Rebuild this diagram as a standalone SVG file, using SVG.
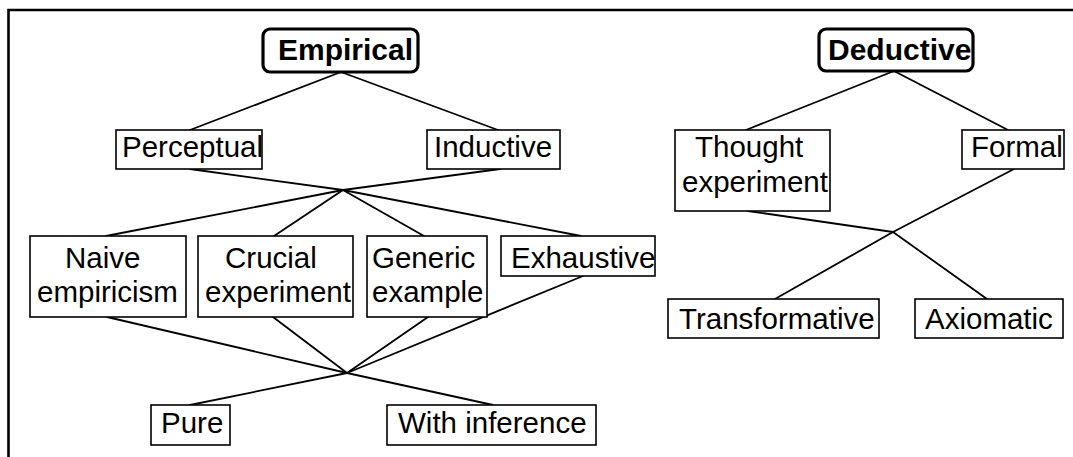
<svg xmlns="http://www.w3.org/2000/svg" width="1073" height="457" viewBox="0 0 1073 457">
<style>
  .box { fill: #ffffff; stroke: #000000; stroke-width: 1.6; }
  .root { fill: #ffffff; stroke: #000000; stroke-width: 3.2; }
  .lbl { font-family: "Liberation Sans", Arial, Helvetica, sans-serif; font-size: 29.5px; fill: #000000; }
  .bold { font-family: "Liberation Sans", Arial, Helvetica, sans-serif; font-size: 30px; font-weight: bold; fill: #000000; }
  .edge { stroke: #000000; stroke-width: 1.8; fill: none; stroke-linecap: round; }
  .frame { stroke: #000000; stroke-width: 2.6; fill: none; }
</style>
<rect x="0" y="0" width="1073" height="457" fill="#ffffff"/>
<path class="frame" d="M8.5,457 L8.5,10 L1073,10"/>
<g id="connectors">
  <line class="edge" x1="341" y1="72" x2="190" y2="130"/>
  <line class="edge" x1="341" y1="72" x2="498" y2="130"/>
  <line class="edge" x1="190" y1="169" x2="343" y2="190"/>
  <line class="edge" x1="500" y1="169" x2="343" y2="190"/>
  <line class="edge" x1="343" y1="190" x2="106" y2="236"/>
  <line class="edge" x1="343" y1="190" x2="274" y2="236"/>
  <line class="edge" x1="343" y1="190" x2="424" y2="236"/>
  <line class="edge" x1="343" y1="190" x2="581" y2="236"/>
  <line class="edge" x1="107" y1="317" x2="347" y2="373"/>
  <line class="edge" x1="273" y1="317" x2="347" y2="373"/>
  <line class="edge" x1="428" y1="317" x2="347" y2="373"/>
  <line class="edge" x1="583" y1="276" x2="347" y2="373"/>
  <line class="edge" x1="347" y1="373" x2="190" y2="405"/>
  <line class="edge" x1="347" y1="373" x2="493" y2="405"/>
  <line class="edge" x1="894" y1="71" x2="746" y2="130"/>
  <line class="edge" x1="894" y1="71" x2="1008" y2="130"/>
  <line class="edge" x1="748" y1="211" x2="893" y2="232"/>
  <line class="edge" x1="1014" y1="169" x2="893" y2="232"/>
  <line class="edge" x1="893" y1="232" x2="775" y2="299"/>
  <line class="edge" x1="893" y1="232" x2="987" y2="299"/>
</g>
<g id="empirical">
  <rect class="root" x="263" y="29" width="155" height="43" rx="7"/>
  <text class="bold" x="278" y="60">Empirical</text>
</g>
<g id="perceptual">
  <rect class="box" x="116" y="130" width="146" height="39"/>
  <text class="lbl" x="122" y="157">Perceptual</text>
</g>
<g id="inductive">
  <rect class="box" x="427" y="130" width="133" height="39"/>
  <text class="lbl" x="434" y="157">Inductive</text>
</g>
<g id="naive-empiricism">
  <rect class="box" x="30" y="236" width="156" height="81"/>
  <text class="lbl" x="65" y="268">Naive</text>
  <text class="lbl" x="37" y="302">empiricism</text>
</g>
<g id="crucial-experiment">
  <rect class="box" x="198" y="236" width="155" height="81"/>
  <text class="lbl" x="225" y="268">Crucial</text>
  <text class="lbl" x="205" y="302">experiment</text>
</g>
<g id="generic-example">
  <rect class="box" x="367" y="236" width="120" height="81"/>
  <text class="lbl" x="372" y="268">Generic</text>
  <text class="lbl" x="372" y="302">example</text>
</g>
<g id="exhaustive">
  <rect class="box" x="501" y="236" width="154" height="40"/>
  <text class="lbl" x="511" y="268">Exhaustive</text>
</g>
<g id="pure">
  <rect class="box" x="151" y="405" width="79" height="40"/>
  <text class="lbl" x="161" y="433">Pure</text>
</g>
<g id="with-inference">
  <rect class="box" x="387" y="405" width="209" height="40"/>
  <text class="lbl" x="398" y="433">With inference</text>
</g>
<g id="deductive">
  <rect class="root" x="819" y="29" width="154" height="42" rx="7"/>
  <text class="bold" x="828" y="60">Deductive</text>
</g>
<g id="thought-experiment">
  <rect class="box" x="675" y="130" width="155" height="81"/>
  <text class="lbl" x="695" y="157">Thought</text>
  <text class="lbl" x="682" y="192">experiment</text>
</g>
<g id="formal">
  <rect class="box" x="962" y="130" width="102" height="39"/>
  <text class="lbl" x="971" y="157">Formal</text>
</g>
<g id="transformative">
  <rect class="box" x="668" y="299" width="211" height="39"/>
  <text class="lbl" x="679" y="329">Transformative</text>
</g>
<g id="axiomatic">
  <rect class="box" x="915" y="299" width="148" height="39"/>
  <text class="lbl" x="925" y="329">Axiomatic</text>
</g>
</svg>
